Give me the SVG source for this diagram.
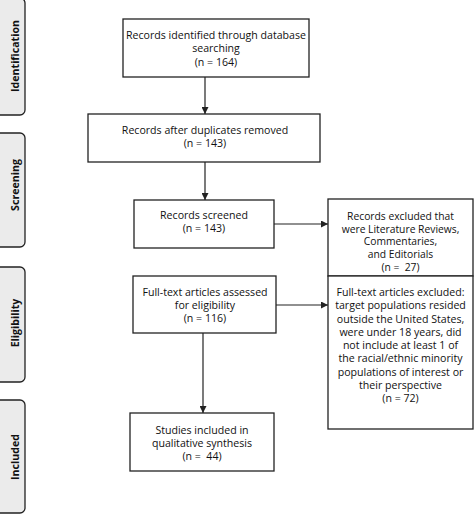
<svg xmlns="http://www.w3.org/2000/svg" width="474" height="515" viewBox="0 0 474 515">
<defs>
<style>
.box{fill:#fff;stroke:#222;stroke-width:1.3}
.side{fill:#ebebeb;stroke:#222;stroke-width:1.3}
.t{font-family:"Open Sans","Liberation Sans",sans-serif;font-size:10.6px;fill:#111;text-anchor:middle}
.s{font-family:"Open Sans","Liberation Sans",sans-serif;font-size:10.6px;font-weight:bold;fill:#111;text-anchor:middle}
.c{stroke:#222;stroke-width:1.2;fill:none;marker-end:url(#ah)}
</style>
<marker id="ah" viewBox="0 0 8 8" refX="8" refY="4" markerWidth="7" markerHeight="7" markerUnits="userSpaceOnUse" orient="auto">
<path d="M0,0 L8,4 L0,8 z" fill="#222"/>
</marker>
</defs>
<rect width="474" height="515" fill="#fff"/>
<g id="side-identification">
<rect class="side" x="-10" y="-2" width="35" height="117" rx="5"/>
<text class="s" transform="translate(18.5,56) rotate(-90)">Identification</text>
</g>
<g id="side-screening">
<rect class="side" x="-10" y="133" width="35" height="114" rx="5"/>
<text class="s" transform="translate(18.5,185) rotate(-90)">Screening</text>
</g>
<g id="side-eligibility">
<rect class="side" x="-10" y="267" width="35" height="115" rx="5"/>
<text class="s" transform="translate(18.5,323) rotate(-90)">Eligibility</text>
</g>
<g id="side-included">
<rect class="side" x="-10" y="400" width="35" height="113" rx="5"/>
<text class="s" transform="translate(18.5,457) rotate(-90)">Included</text>
</g>
<g id="connectors">
<line class="c" x1="205" y1="77" x2="205" y2="114"/>
<line class="c" x1="205" y1="162" x2="205" y2="200"/>
<line class="c" x1="274" y1="224" x2="328" y2="224"/>
<line class="c" x1="276" y1="305" x2="328" y2="305"/>
<line class="c" x1="203" y1="333" x2="203" y2="413"/>
</g>
<g id="n1">
<rect class="box" x="123" y="19" width="186" height="58"/>
<text class="t" x="216" y="39">Records identified through database</text>
<text class="t" x="216" y="52">searching</text>
<text class="t" x="216" y="66">(n = 164)</text>
</g>
<g id="n2">
<rect class="box" x="88" y="114" width="232" height="48"/>
<text class="t" x="205" y="134">Records after duplicates removed</text>
<text class="t" x="205" y="147">(n = 143)</text>
</g>
<g id="n3">
<rect class="box" x="134" y="200" width="140" height="48"/>
<text class="t" x="204" y="219">Records screened</text>
<text class="t" x="204" y="232">(n = 143)</text>
</g>
<g id="n4">
<rect class="box" x="328" y="199" width="145" height="77"/>
<text class="t" x="400.5" y="219.5" style="font-size:10.3px">Records excluded that</text>
<text class="t" x="400.5" y="232.5" style="font-size:10.3px">were Literature Reviews,</text>
<text class="t" x="400.5" y="245.3" style="font-size:10.3px">Commentaries,</text>
<text class="t" x="400.5" y="258" style="font-size:10.3px">and Editorials</text>
<text class="t" x="400.5" y="271" style="font-size:10.3px">(n =&#160; 27)</text>
</g>
<g id="n5">
<rect class="box" x="328" y="276" width="145" height="153"/>
<text class="t" x="400.5" y="296">Full-text articles excluded:</text>
<text class="t" x="400.5" y="309">target populations resided</text>
<text class="t" x="400.5" y="322.5">outside the United States,</text>
<text class="t" x="400.5" y="336">were under 18 years, did</text>
<text class="t" x="400.5" y="349">not include at least 1 of</text>
<text class="t" x="400.5" y="362">the racial/ethnic minority</text>
<text class="t" x="400.5" y="376">populations of interest or</text>
<text class="t" x="400.5" y="389">their perspective</text>
<text class="t" x="400.5" y="402">(n = 72)</text>
</g>
<g id="n6">
<rect class="box" x="133" y="276" width="143" height="57"/>
<text class="t" x="205" y="296">Full-text articles assessed</text>
<text class="t" x="205" y="309">for eligibility</text>
<text class="t" x="205" y="322">(n = 116)</text>
</g>
<g id="n7">
<rect class="box" x="130" y="413" width="144" height="58"/>
<text class="t" x="202" y="434">Studies included in</text>
<text class="t" x="202" y="447">qualitative synthesis</text>
<text class="t" x="202" y="460">(n =&#160; 44)</text>
</g>
</svg>
